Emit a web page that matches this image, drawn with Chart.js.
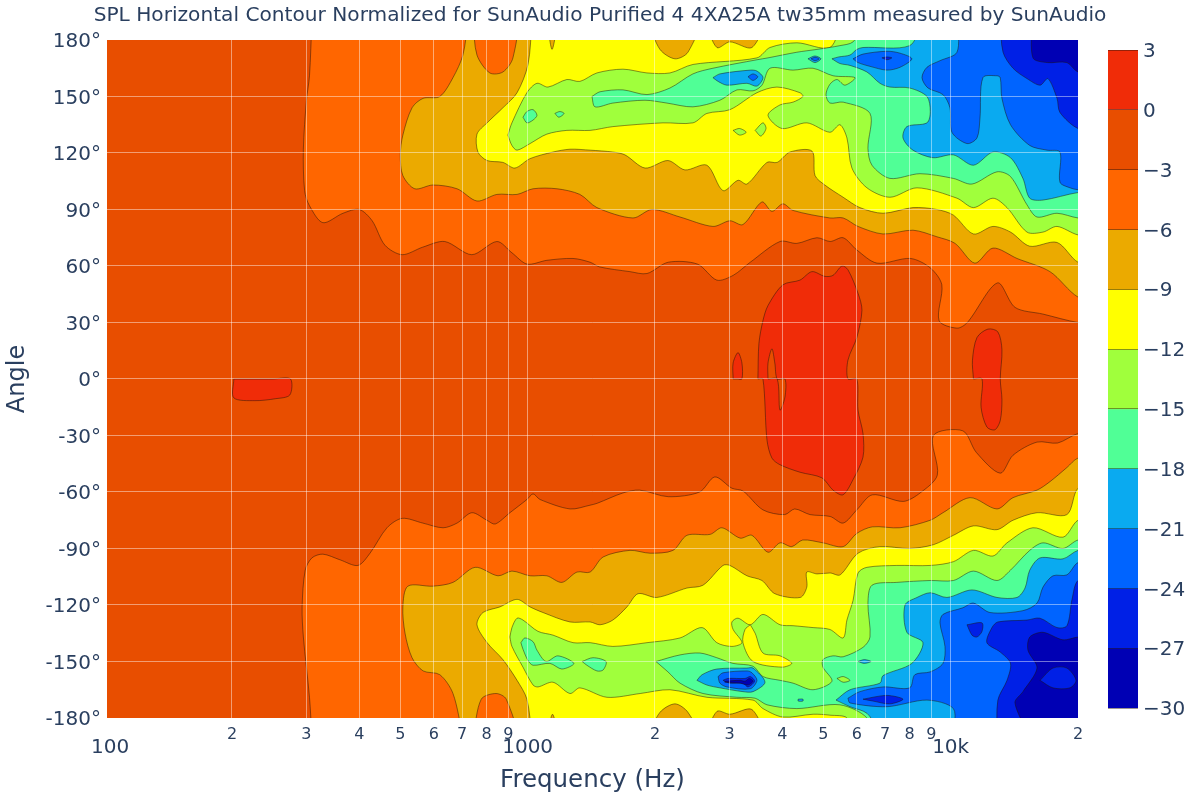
<!DOCTYPE html>
<html>
<head>
<meta charset="utf-8">
<title>SPL Horizontal Contour</title>
<script src="https://cdn.jsdelivr.net/npm/chart.js@4"></script>
<style>
  html, body { margin: 0; padding: 0; background: #ffffff; }
  #wrap { position: relative; width: 1200px; height: 800px; overflow: hidden; }
  #contour { position: absolute; left: 0; top: 0; }
  #colorbar { position: absolute; left: 1085px; top: 0; }
</style>
</head>
<body>
<div id="wrap">
  <canvas id="contour" width="1200" height="800"></canvas>
  <canvas id="colorbar" width="115" height="800"></canvas>
</div>
<script>
// ------------------------------------------------------------
// Axis ticks
// ------------------------------------------------------------
const xTickValues = [101.3, 200, 300, 400, 500, 600, 700, 800, 900, 1000, 2000, 3000, 4000, 5000, 6000, 7000, 8000, 9000, 10000, 20000];
const xTickLabels = ['\u00a0100', '2', '3', '4', '5', '6', '7', '8', '9', '1000', '2', '3', '4', '5', '6', '7', '8', '9', '10k', '2'];
const xMajorTicks = [101.3, 1000, 10000];
const yTickValues = [-180, -150, -120, -90, -60, -30, 0, 30, 60, 90, 120, 150, 180];

// dB bands, top of the colorbar first
const bandEdges = [3, 0, -3, -6, -9, -12, -15, -18, -21, -24, -27, -30];
const bandLabels = ['3', '0', '\u22123', '\u22126', '\u22129', '\u221212', '\u221215', '\u221218', '\u221221', '\u221224', '\u221227', '\u221230'];
const bandColors = ['#f02c08', '#e84e00', '#ff6600', '#ebaa00', '#ffff00', '#a0ff3c', '#50ff96', '#0aaaf0', '#0064ff', '#0020e6', '#0000b4'];

// ------------------------------------------------------------
// Contours as [frequency Hz, angle deg].
// 22000 Hz and +-190 deg sit outside the plot, they only close a region.
// ------------------------------------------------------------
const wholePlot = [[90, -190], [22000, -190], [22000, 190], [90, 190]];

const top3 = [[309,190],[305,161],[300,148],[295,122],[297,100],[305,92],[328,83],[366,88],[400,90],[429,84],[460,71],[505,66],[565,70],[637,73],[738,66],[846,73],[918,67],[997,61],[1110,63],[1280,64],[1405,62],[1480,59.5],[1745,57],[1915,56],[2150,62],[2520,61],[2800,52.5],[3060,55],[3360,62],[3950,73],[4330,72],[4830,75],[5190,73],[5570,75],[6000,68.5],[6700,61.5],[8030,64],[8950,59],[9530,50],[9390,31],[10350,27],[10950,30],[12900,51],[14200,38],[16500,34.5],[20000,30],[22000,30],[22000,190]];
const bottom3 = [[309,-190],[305,-169],[295,-137],[293,-121],[298,-101.5],[309,-95],[328,-93],[360,-96],[397,-99],[424,-92.5],[465,-79],[505,-74],[565,-76.5],[631,-79],[681,-76.5],[738,-71],[801,-75],[838,-77],[908,-71],[996,-64],[1030,-61],[1070,-64],[1260,-69],[1405,-67],[1460,-66],[1680,-60.5],[1840,-59],[2150,-62.5],[2550,-60],[2770,-52],[3040,-58],[3230,-59.5],[3600,-69.5],[4050,-72],[4280,-69],[4650,-72],[5190,-73],[5570,-76.5],[6000,-69.5],[6530,-61.5],[7720,-65],[8470,-60.5],[9300,-51],[9100,-30],[10680,-27.5],[11500,-39],[13100,-50],[14040,-40.5],[16000,-33.5],[17900,-34],[20000,-29],[22000,-29],[22000,-190]];

const top6 = [[723,190],[703,172],[666,160],[620,150],[566,149],[533,144],[507,129.5],[500,119],[507,108],[541,101],[597,103],[681,101],[759,94.5],[846,98],[944,98],[1030,101],[1173,101],[1329,98],[1458,91],[1774,85.5],[1968,90],[2292,86],[2742,81],[3007,84],[3228,82],[3580,94],[3780,89],[4013,93],[4240,89.5],[5183,85.5],[5570,85.5],[6040,81],[6918,77],[8147,79],[9281,75.5],[10240,72],[11410,61.5],[12590,69.5],[14350,64],[17170,57],[20000,43.5],[22000,43.5],[22000,190]];
const bottom6 = [[703,-190],[666,-167],[620,-157],[566,-155],[533,-148],[513,-135],[507,-121],[521,-110],[597,-110],[666,-108],[751,-100],[851,-104.5],[918,-102],[1013,-104.5],[1110,-104.5],[1205,-108],[1308,-102.5],[1405,-102.5],[1508,-94.5],[1745,-91],[1948,-92.5],[2206,-91],[2380,-83],[2700,-82.5],[2880,-79],[3180,-84.5],[3390,-83],[3700,-92],[3950,-87],[4210,-89],[4470,-85.5],[4990,-87],[5570,-89],[6000,-82],[6530,-78.5],[7590,-79],[8950,-75],[9590,-71],[11110,-63],[12870,-69],[14040,-63],[16000,-59],[17170,-54.5],[18830,-47],[20000,-42],[22000,-42],[22000,-190]];
const topPocket6 = [[743,190],[759,172],[814,162.5],[874,163],[923,170.5],[933,190]];
const bottomPocket6 = [[743,-190],[777,-170],[842,-167],[890,-170],[933,-190]];

const top9 = [[1024,190],[1002,167],[944,152],[874,144],[802,136],[759,130],[763,120.5],[802,116],[874,115],[933,112],[1013,117],[1148,120.5],[1259,122],[1405,121.5],[1590,120.5],[1698,119],[1895,112],[2146,116],[2355,111],[2653,113.5],[2896,100],[3143,105.5],[3300,103.5],[3680,115],[3890,115],[4170,120.5],[4700,121],[4780,108],[5040,103],[5570,96.5],[6100,91],[6920,88],[8150,91],[9280,90],[10150,87],[11320,77],[12590,81],[13850,78],[15380,70.5],[17840,72.5],[20000,62],[22000,62],[22000,190]];
const bottom9 = [[1024,-190],[996,-170],[944,-160],[874,-149],[802,-140],[759,-130.5],[784,-124],[860,-121],[944,-117],[1013,-121],[1087,-124],[1259,-129],[1405,-129],[1483,-130.5],[1590,-128],[1717,-121],[1824,-114],[2020,-116],[2380,-111],[2597,-109.5],[2896,-99],[3007,-99],[3300,-104.5],[3580,-107],[3840,-114],[4410,-116],[4570,-110.5],[4570,-102.5],[4830,-103.5],[5190,-103],[5480,-104],[6040,-92.5],[6800,-89],[8000,-90],[9100,-88],[10150,-83],[11320,-78],[12870,-80],[14040,-75],[16000,-71],[18830,-72],[20000,-58],[22000,-58],[22000,-190]];
const topPockets9 = [
  [[1110,190],[1142,175],[1167,190]],
  [[1924,190],[2055,175],[2230,170],[2393,173.5],[2527,190]],
  [[2625,190],[2802,176],[3007,179],[3390,176],[3580,190]]
];
const bottomPockets9 = [
  [[1110,-190],[1145,-178],[1172,-190]],
  [[1924,-190],[2055,-177],[2230,-172.5],[2393,-177],[2527,-190]],
  [[2625,-190],[2802,-176.5],[3007,-178],[3390,-175.5],[3580,-190]]
];

const top12 = [[898,129.5],[918,124],[944,121.5],[1013,125],[1110,130],[1238,132],[1405,132],[1590,134],[2089,136],[2459,136],[2653,141],[3007,143],[3484,152],[3885,155],[4403,152],[4475,150],[4240,147],[3948,145.5],[3700,140],[3992,133],[4574,136],[5183,131],[5473,135],[5686,128],[5843,112],[6340,101.5],[7186,96.5],[8326,101.5],[10350,96],[11320,91],[12590,96],[13590,91],[15150,78],[16530,78],[17840,81],[20000,76.5],[22000,76.5],[22000,190],[5686,190],[5183,176],[4330,178.5],[3740,176],[3484,170.5],[2459,167],[2170,162.5],[1915,162.5],[1680,164.5],[1458,162.5],[1329,158],[1238,159],[1117,155],[1052,157],[996,152],[918,136]];
const bottom12 = [[908,-137],[918,-132],[944,-127],[975,-128],[1058,-134],[1148,-136],[1280,-140],[1405,-140],[1590,-142],[1915,-140],[2292,-137.5],[2585,-132],[2800,-140],[3040,-142],[3210,-140],[3060,-133],[3040,-129],[3143,-127],[3360,-130.5],[3600,-125],[3950,-130.5],[4240,-131],[4730,-132],[5183,-133],[5570,-137.5],[5686,-128],[5880,-117.5],[6040,-103],[6340,-100],[7460,-99],[8950,-99],[10150,-97],[11320,-91],[12590,-94],[13590,-87],[15650,-79],[18430,-84],[20000,-75],[22000,-75],[22000,-190],[5686,-190],[5686,-180],[5183,-178.5],[4730,-178],[4013,-179.5],[3600,-175],[3410,-170.5],[2653,-169],[2170,-165],[1845,-167],[1540,-169],[1329,-164],[1259,-167],[1148,-161],[1058,-163.5],[1030,-162.5],[975,-153],[918,-142]];
const islands12 = [
  [[3060,132],[3170,133],[3285,131],[3170,129.5]],
  [[3450,132],[3600,136],[3660,133],[3560,129]]
];
const bottomFinger9 = [[3360,-130.5],[3265,-133],[3228,-140],[3410,-150],[3992,-153],[4210,-151],[3950,-147],[3600,-145.5],[3450,-135]];

const top15 = [[1419,150],[1443,144.5],[1590,146.5],[1894,148],[2135,146.5],[2459,144.5],[2848,148],[3125,153.5],[3410,153],[3580,156],[3740,165],[4240,164],[4727,165],[5270,161],[5940,160],[5625,156],[5385,159],[5183,156.5],[5073,151],[5183,146.5],[5570,147],[6447,141],[6375,122.5],[6516,113.5],[7186,106.5],[8460,109],[10150,106.5],[11230,103.5],[12870,110],[13850,107.5],[15150,92.5],[16000,86],[17840,88],[20000,85.5],[22000,85.5],[22000,190],[6375,190],[5880,179],[5473,177],[4830,175],[4330,173.5],[3700,170.5],[3484,169.5],[2742,165],[2459,162],[2170,154.5],[1915,151],[1680,153.5],[1483,152.5]];
const bottom15 = [[2010,-150],[2292,-146.5],[2555,-145.5],[2800,-148],[3057,-151],[3410,-152.5],[3600,-158],[3950,-160],[4240,-161.5],[4727,-165],[5240,-160.5],[4990,-153],[4990,-149],[5270,-147],[5570,-147.5],[6205,-142.5],[6447,-137],[6375,-119],[6516,-109.5],[7460,-108],[8950,-107],[10150,-107],[11320,-102],[12870,-107],[13850,-101.5],[15380,-91],[16530,-87],[18430,-90],[20000,-85.5],[22000,-85.5],[22000,-190],[6340,-190],[6340,-180],[5473,-173],[4330,-175],[3680,-173],[3450,-169.5],[3125,-169],[2597,-167],[2292,-161.5],[2146,-155.5]];
const islands15 = [
  [[975,139],[996,142],[1030,143],[1052,140],[1030,137.5],[996,136]],
  [[1160,141],[1192,142],[1219,141],[1185,139]],
  [[964,-140],[985,-137.5],[1030,-139.5],[1052,-144],[1105,-150],[1179,-147],[1286,-151],[1205,-154],[1129,-151],[1030,-152],[1002,-149.5],[975,-143.5]],
  [[1345,-150],[1427,-148],[1532,-150],[1508,-154.5],[1458,-155],[1381,-152]]
];
const limeLens = [[5385,-159],[5570,-158],[5780,-160],[5570,-161]];

const top18 = [[5240,170],[5473,167.5],[5780,166.5],[6340,163],[6805,157],[7186,155],[8000,154.5],[8790,150],[8950,142],[8790,136],[7880,134],[7715,128],[8145,121.5],[9080,117.5],[10150,119],[11320,113.5],[12590,120.5],[13850,117.5],[14820,106.5],[15380,96],[16530,95],[20000,99],[22000,99],[22000,190],[8790,190],[8000,177],[6205,176],[6000,175],[5780,172],[5435,171]];
const bottom18 = [[5357,-170.5],[5780,-165],[6805,-161.5],[6920,-157.5],[8095,-151],[8600,-140],[7880,-134.5],[7800,-120],[8326,-116],[8950,-113.5],[9800,-116],[11230,-112],[12870,-116],[14350,-116],[14990,-111],[15380,-101.5],[16260,-95],[18430,-95.5],[20000,-91],[22000,-91],[22000,-190],[7070,-190],[6340,-177.5],[5780,-174]];
const islands18 = [
  [[2742,160],[2848,162],[3360,164],[3484,163.5],[3600,160],[3484,155.5],[3300,157],[2959,156],[2820,158]],
  [[4599,170],[4778,171.5],[4935,170],[4778,168]],
  [[2513,-160],[2585,-157],[2800,-154],[3300,-153.5],[3410,-153.5],[3640,-161],[3410,-166],[3228,-166],[2848,-164],[2653,-162.5]],
  [[6040,-150],[6250,-149],[6480,-150],[6250,-151]],
  [[4360,-170],[4475,-170],[4475,-171],[4360,-171]]
];

const top21 = [[10400,190],[10350,173.5],[9435,169],[8790,165.5],[8555,160],[8840,154.5],[9590,151],[9960,144],[10070,131],[10930,125],[11540,128],[11730,138.5],[11920,160],[12870,161],[13100,160],[13220,149],[13850,135],[15380,124],[16900,121.5],[18130,120.5],[18130,104.5],[19150,101.5],[20000,100.5],[22000,100.5],[22000,190]];
const bottom21 = [[5717,-169.5],[6100,-166],[6920,-163.5],[8000,-164],[8230,-157],[8950,-155.5],[9590,-151],[9695,-142],[9435,-129.5],[9590,-125],[10680,-121.5],[11320,-119],[12390,-124],[14820,-123],[16000,-119],[16530,-110.5],[17450,-104.5],[18830,-104],[20000,-97.5],[22000,-97.5],[22000,-190],[10400,-190],[10150,-175],[8790,-170.5],[7070,-174],[5780,-172]];
const islands21 = [
  [[5876,170],[6205,172.5],[7070,174],[7590,173],[8095,170],[7590,165.5],[7070,164],[6447,166],[6040,168]],
  [[3318,160.5],[3410,162],[3500,160.5],[3410,158.5]],
  [[4675,170],[4778,170.8],[4890,170],[4778,169]],
  [[2820,-158],[2896,-156],[3300,-155],[3390,-156],[3484,-160],[3360,-164.5],[2959,-163.5],[2848,-161.5]]
];

const top24 = [[13100,190],[13300,173.5],[14040,165],[15150,159.5],[16270,156],[16980,159.5],[17840,149],[18130,141.5],[20000,133],[22000,133],[22000,190]];
const bottom24 = [[12870,-190],[12930,-170.5],[13590,-160],[13850,-151],[13100,-145],[12180,-140],[12520,-132],[12930,-129],[15150,-128],[16260,-127],[17840,-132],[18830,-131],[19360,-117],[20000,-107],[22000,-107],[22000,-190]];
const islands24 = [
  [[6878,170.5],[7070,171],[7260,170.5],[7070,169.5]],
  [[10930,-130.5],[11860,-129.5],[11860,-134],[11540,-137],[11230,-136]],
  [[2896,-160],[2975,-159],[3265,-159],[3360,-158],[3440,-160.5],[3318,-163.5],[3228,-161.5],[3007,-161.5]],
  [[6205,-170],[7070,-168],[7715,-170],[7186,-172.5],[6550,-171]]
];

const top27 = [[15570,190],[15650,170.5],[16900,168],[18830,168],[20000,163],[22000,163],[22000,190]];
const bottom27 = [[15380,-190],[14190,-172],[14820,-166],[16000,-153.5],[15230,-144],[15380,-137],[16530,-134.5],[18430,-138.5],[20000,-137],[22000,-137],[22000,-190]];
const coreBottom27 = [[2925,-160.5],[3180,-160],[3265,-160.5],[3340,-159],[3410,-160.5],[3318,-162.5],[3180,-161.5],[2925,-161]];
const holeBottom24 = [[16270,-160],[17450,-153.5],[18830,-153.5],[19780,-160],[19150,-164],[17450,-164]];

// Regions above 0 dB, the contours jump a little where they cross 0 deg
const redMain = [[3502,0],[3522,19],[3600,31],[3700,39],[4013,50],[4403,52.5],[4700,57],[5040,54.5],[5270,55],[5535,60],[5717,58],[6040,45.5],[6170,36.5],[6000,22],[5717,10],[5717,0],[6000,0],[6040,-16.5],[6205,-29],[6205,-41.5],[5876,-53.5],[5565,-61.5],[5270,-59],[4963,-52.5],[4403,-49.5],[3948,-45.5],[3780,-42],[3680,-32.5],[3600,0]];
const redSmall = [[3060,0],[3060,8.5],[3143,14],[3210,8.5],[3210,0],[3130,0]];
const redRight = [[11320,0],[11260,10],[11540,22],[12250,26.5],[12930,25],[13220,15.5],[13100,0],[13220,-11],[13100,-22],[12720,-27],[12180,-25.5],[11800,-15],[11860,0]];
const redLeft = [[202,0],[202,-10],[226.6,-11.5],[253,-10.5],[274,-8.5],[275,0],[250,0],[225,0]];
const redNotch = [[3700,0],[3700,8.5],[3780,16],[3840,8.5],[3890,0],[4058,0],[4058,-9.5],[3948,-16.5],[3890,0]];

// ------------------------------------------------------------
// Paint order, each region is drawn over the ones before it
// ------------------------------------------------------------
const C = bandColors;
const paintOrder = [
  [wholePlot, C[1]],
  [top3, C[2]], [bottom3, C[2]],
  [top6, C[3]], [bottom6, C[3]],
  [topPocket6, C[2]], [bottomPocket6, C[2]],
  [top9, C[4]], [bottom9, C[4]],
  ...topPockets9.map(p => [p, C[3]]),
  ...bottomPockets9.map(p => [p, C[3]]),
  [top12, C[5]], [bottom12, C[5]],
  ...islands12.map(p => [p, C[5]]),
  [bottomFinger9, C[4]],
  [top15, C[6]], [bottom15, C[6]],
  ...islands15.map(p => [p, C[6]]),
  [limeLens, C[5]],
  [top18, C[7]], [bottom18, C[7]],
  ...islands18.map(p => [p, C[7]]),
  [top21, C[8]], [bottom21, C[8]],
  ...islands21.map(p => [p, C[8]]),
  [top24, C[9]], [bottom24, C[9]],
  ...islands24.map(p => [p, C[9]]),
  [top27, C[10]], [bottom27, C[10]],
  [coreBottom27, C[10]],
  [holeBottom24, C[9]],
  [redMain, C[0]], [redSmall, C[0]], [redRight, C[0]], [redLeft, C[0]],
  [redNotch, C[1]]
];

const TEXT_COLOR = '#2a3f5f';
const FONT = "'DejaVu Sans', Verdana, sans-serif";

Chart.defaults.font.family = FONT;
Chart.defaults.color = TEXT_COLOR;
Chart.defaults.animation = false;

// Chart.js draws the dataset with the highest order first
const contourDatasets = paintOrder.map(([pts, color], i) => ({
  data: pts.concat([pts[0]]).map(p => ({ x: p[0], y: p[1] })),
  showLine: true,
  fill: 'shape',
  backgroundColor: color,
  borderColor: 'rgba(30, 20, 10, 0.6)',
  borderWidth: 0.8,
  tension: 0.3,
  capBezierPoints: false,
  pointRadius: 0,
  pointHoverRadius: 0,
  order: paintOrder.length - i
}));

// Grid is hidden on the plot edges
function innerGrid(ctx) {
  const v = ctx.tick ? ctx.tick.value : null;
  if (v === xTickValues[0] || v === 20000 || v === 180 || v === -180) return 'rgba(255, 255, 255, 0)';
  return 'rgba(255, 255, 255, 0.45)';
}

new Chart(document.getElementById('contour').getContext('2d'), {
  type: 'scatter',
  data: { datasets: contourDatasets },
  options: {
    responsive: false,
    plugins: {
      legend: { display: false },
      tooltip: { enabled: false },
      title: {
        display: true,
        text: 'SPL Horizontal Contour Normalized for SunAudio Purified 4 4XA25A tw35mm measured by SunAudio',
        color: TEXT_COLOR,
        font: { size: 20.15, weight: 'normal' },
        padding: { top: 4, bottom: 11.8 }
      }
    },
    scales: {
      x: {
        type: 'logarithmic',
        min: xTickValues[0],
        max: 20000,
        afterBuildTicks: scale => { scale.ticks = xTickValues.map(v => ({ value: v })); },
        afterFit: scale => { scale.height = 82; scale.paddingLeft = 0; scale.paddingRight = 0; },
        grid: { color: innerGrid, lineWidth: 1, z: 1, drawTicks: false },
        border: { display: false },
        ticks: {
          autoSkip: false,
          maxRotation: 0,
          padding: 9,
          color: TEXT_COLOR,
          font: ctx => (ctx.tick && xMajorTicks.includes(ctx.tick.value) ? { size: 20, lineHeight: 0.7 } : { size: 16, lineHeight: 1 }),
          callback: (value, i) => (xMajorTicks.includes(value) ? ['', xTickLabels[i]] : xTickLabels[i])
        },
        title: { display: true, text: 'Frequency (Hz)', color: TEXT_COLOR, font: { size: 24.5 }, padding: { top: 2, bottom: 5 } }
      },
      y: {
        min: -180,
        max: 180,
        afterBuildTicks: scale => { scale.ticks = yTickValues.map(v => ({ value: v })); },
        afterFit: scale => { scale.width = 107; scale.paddingTop = 0; scale.paddingBottom = 0; },
        grid: { color: innerGrid, lineWidth: 1, z: 1, drawTicks: false },
        border: { display: false },
        ticks: {
          padding: 6,
          labelOffset: 2,
          color: TEXT_COLOR,
          font: { size: 20 },
          callback: value => value + '\u00b0'
        },
        title: { display: true, text: 'Angle', color: TEXT_COLOR, font: { size: 24 }, padding: { top: 3, bottom: 0 } }
      },
      // empty axis that keeps room for the colorbar, so the title stays centred on the page
      spacer: {
        position: 'right',
        display: true,
        afterFit: scale => { scale.width = 122; scale.paddingTop = 0; scale.paddingBottom = 0; },
        grid: { display: false },
        border: { display: false },
        ticks: { display: false }
      }
    }
  }
});

// ------------------------------------------------------------
// Colorbar, one floating bar per dB band
// ------------------------------------------------------------
new Chart(document.getElementById('colorbar').getContext('2d'), {
  type: 'bar',
  data: {
    labels: [''],
    datasets: bandColors.map((color, i) => ({
      data: [[bandEdges[i + 1], bandEdges[i]]],
      backgroundColor: color,
      borderWidth: 0,
      grouped: false,
      barPercentage: 1,
      categoryPercentage: 1
    }))
  },
  options: {
    responsive: false,
    layout: { padding: { top: 50, bottom: 92, left: 23, right: 0 } },
    plugins: { legend: { display: false }, tooltip: { enabled: false } },
    scales: {
      x: { display: false },
      y: {
        position: 'right',
        min: -30,
        max: 3,
        afterBuildTicks: scale => { scale.ticks = bandEdges.map(v => ({ value: v })); },
        afterFit: scale => { scale.width = 62; scale.paddingTop = 0; scale.paddingBottom = 0; },
        grid: { color: 'rgba(40, 20, 10, 0.45)', lineWidth: 1, z: 1, drawTicks: false },
        border: { display: false },
        ticks: {
          padding: 5,
          labelOffset: 2,
          color: TEXT_COLOR,
          font: { size: 20 },
          callback: (value, i) => bandLabels[i]
        }
      }
    }
  }
});
</script>
</body>
</html>
